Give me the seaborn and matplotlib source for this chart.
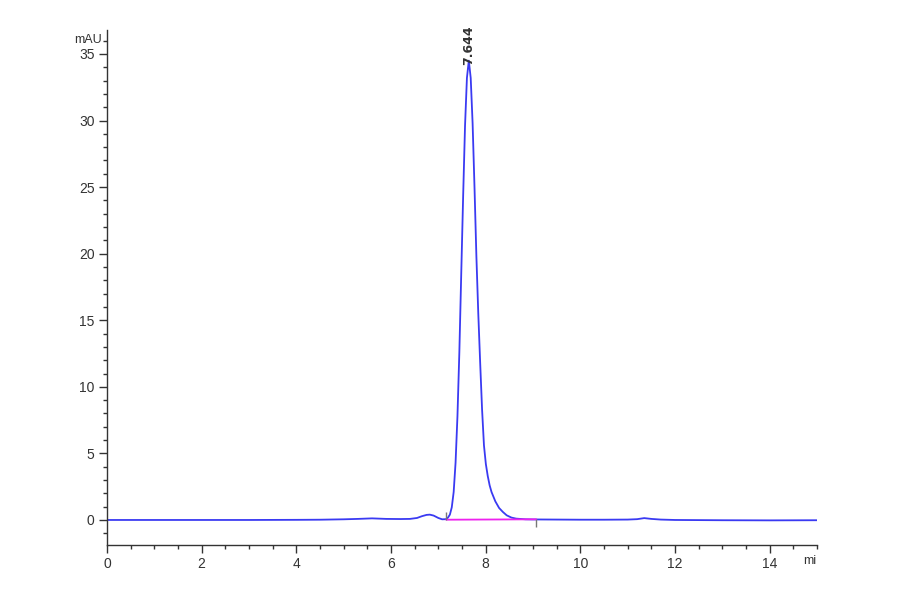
import numpy as np
import pandas as pd
import matplotlib
matplotlib.use("Agg")
import matplotlib.pyplot as plt
from matplotlib.ticker import MultipleLocator
from matplotlib.transforms import Bbox
import seaborn as sns

# ---- data ----
time_min = [0.0, 1.0, 2.0, 3.0, 4.0, 4.5, 5.0, 5.3, 5.6, 5.9, 6.2, 6.4, 6.55,
            6.65, 6.75, 6.82, 6.9, 7.0, 7.08, 7.164, 7.204, 7.244, 7.284,
            7.324, 7.364, 7.404, 7.444, 7.484, 7.524, 7.564, 7.604, 7.644,
            7.684, 7.724, 7.764, 7.804, 7.844, 7.884, 7.924, 7.964, 8.004,
            8.044, 8.084, 8.124, 8.204, 8.284, 8.364, 8.444, 8.544, 8.644,
            8.844, 9.0, 9.5, 10.0, 10.5, 11.0, 11.2, 11.35, 11.5, 11.7, 12.0,
            13.0, 14.0, 15.0]
signal_mau = [0.0, 0.0, 0.0, 0.0, 0.01, 0.02, 0.05, 0.08, 0.12, 0.08, 0.07,
              0.08, 0.15, 0.28, 0.38, 0.40, 0.33, 0.15, 0.05, 0.06, 0.18,
              0.40, 0.95, 2.1, 4.3, 7.8, 12.6, 18.5, 24.3, 29.6, 33.2, 34.5,
              33.2, 29.8, 25.0, 19.8, 15.5, 11.8, 8.3, 5.6, 4.2, 3.3, 2.6,
              2.1, 1.4, 0.9, 0.6, 0.35, 0.18, 0.10, 0.05, 0.04, 0.03, 0.02,
              0.02, 0.03, 0.06, 0.14, 0.08, 0.03, 0.0, -0.02, -0.03, -0.02]

baseline_t = [7.17, 9.07]
baseline_y = [0.02, 0.05]

peak_rt = 7.644
peak_height = 34.5
peak_label = "7.644"

x_ticks = [0, 2, 4, 6, 8, 10, 12, 14]
y_ticks = [0, 5, 10, 15, 20, 25, 30, 35]

# ---- plotting ----
sns.set_style("ticks")
plt.rcParams['font.family'] = ['Liberation Sans Narrow', 'Liberation Sans', 'DejaVu Sans']

fig = plt.figure(figsize=(9, 5.94), dpi=100)
ax = fig.add_axes([107/900, (594-545)/594, (817-107)/900, (545-30)/594])

df = pd.DataFrame({"t": time_min, "mAU": signal_mau})
sns.lineplot(data=df, x="t", y="mAU", ax=ax, sort=False, estimator=None,
             color="#3a3af2", linewidth=1.3)
bdf = pd.DataFrame({"t": baseline_t, "y": baseline_y})
sns.lineplot(data=bdf, x="t", y="y", ax=ax, sort=False, estimator=None,
             color="#ee22ee", linewidth=1.3)
# integration event marks
ax.vlines([baseline_t[0]], baseline_y[0], baseline_y[0] + 0.6, color="#777777", lw=1.0)
ax.vlines([baseline_t[1]], baseline_y[1] - 0.55, baseline_y[1], color="#777777", lw=1.0)

ax.text(peak_rt, peak_height - 0.3, peak_label, rotation=90, ha="center",
        va="bottom", fontsize=9, color="#333333", fontweight="bold",
        family=["DejaVu Sans"])

ax.set_xlim(0, 15)
ax.set_ylim(-1.88, 36.8)
ax.set_xticks(x_ticks)
ax.set_yticks(y_ticks)
ax.xaxis.set_minor_locator(MultipleLocator(0.5))
ax.yaxis.set_minor_locator(MultipleLocator(1))
ax.set_xlabel("")
ax.set_ylabel("")
ax.tick_params(axis="both", which="major", length=6, width=1, color="#333333",
               labelsize=10, labelcolor="#333333", direction="out", pad=3)
ax.tick_params(axis="both", which="minor", length=3, width=1, color="#333333",
               direction="out")
for s in ["top", "right"]:
    ax.spines[s].set_visible(False)
for s in ["left", "bottom"]:
    ax.spines[s].set_color("#333333")
    ax.spines[s].set_linewidth(1.0)

fig.text(88/900, 1 - 40/594, "mAU", ha="center", va="center", fontsize=9,
         color="#333333")
mt = fig.text(803/900, 1 - 561/594, "min", ha="left", va="center", fontsize=9,
              color="#333333")
mt.set_clip_box(Bbox([[0, 0], [817, 594]]))
mt.set_clip_on(True)

fig.savefig("out.png", dpi=100, facecolor="white")
